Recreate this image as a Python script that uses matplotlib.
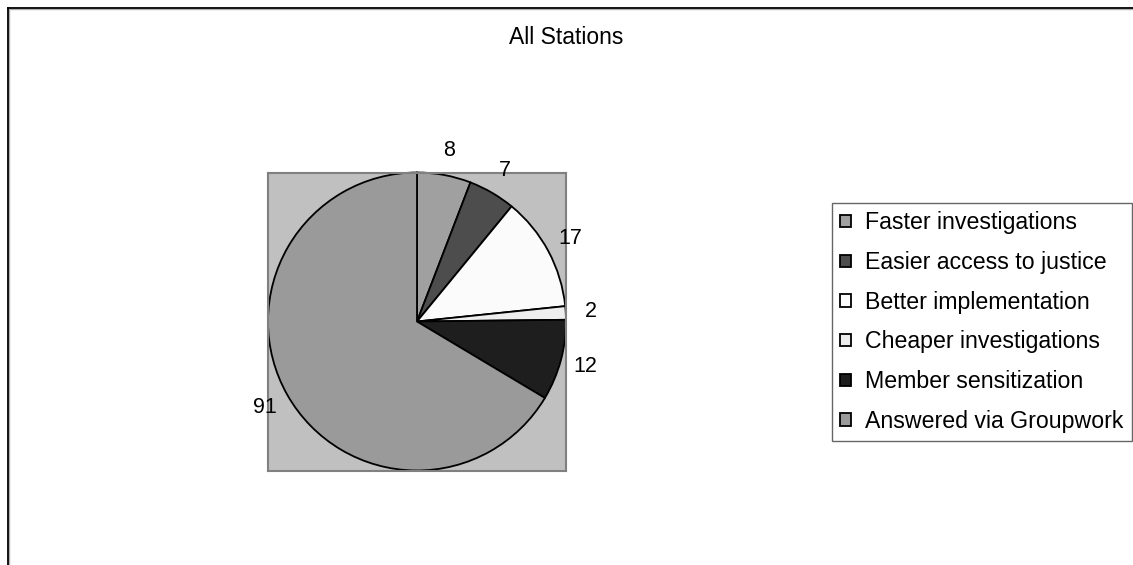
import matplotlib
matplotlib.use("Agg")
import matplotlib.pyplot as plt
from matplotlib.lines import Line2D

plt.rcParams['font.family'] = ['Liberation Sans', 'DejaVu Sans']

# responses for all stations
categories = ["Faster investigations", "Easier access to justice", "Better implementation",
              "Cheaper investigations", "Member sensitization", "Answered via Groupwork"]
counts = [8, 7, 17, 2, 12, 91]
colors = ["#a0a0a0", "#4d4d4d", "#fbfbfb", "#eeeeee", "#1e1e1e", "#9a9a9a"]

W, H = 1133, 565
fig = plt.figure(figsize=(W / 100, H / 100), dpi=100)

# chart area frame (top and left edges only, with a light shadow)
fig.add_artist(Line2D([8 / W, 1], [1 - 9 / H, 1 - 9 / H], color="#b0b0b0", lw=1.0))
fig.add_artist(Line2D([9 / W, 9 / W], [0, 1 - 9 / H], color="#b0b0b0", lw=1.0))
fig.add_artist(Line2D([7.5 / W, 1], [1 - 8 / H, 1 - 8 / H], color="black", lw=1.3))
fig.add_artist(Line2D([8 / W, 8 / W], [0, 1 - 7.5 / H], color="black", lw=1.3))

ax = fig.add_axes([268 / W, 1 - 471 / H, 298 / W, 299 / H])
wedges, texts = ax.pie(counts, colors=colors, startangle=90, counterclock=False,
                       radius=1.0, labels=[str(c) for c in counts], labeldistance=1.17,
                       wedgeprops=dict(edgecolor="black", linewidth=1.3, clip_on=False),
                       textprops=dict(fontsize=15.5, color="black"))
for t in texts:
    t.set_ha("center")
    t.set_va("center")

ax.set_frame_on(True)
ax.set_facecolor("#c0c0c0")
ax.set_xlim(-1, 1)
ax.set_ylim(-1, 1)
ax.set_xticks([])
ax.set_yticks([])
for s in ax.spines.values():
    s.set_color("#808080")
    s.set_linewidth(1.5)

fig.text(566 / W, 1 - 38 / H, "All Stations", ha="center", va="center", fontsize=16.5)

leg = fig.legend(wedges, categories, loc="upper left",
                 bbox_to_anchor=(832 / W, 1 - 203 / H), fontsize=16.7,
                 frameon=True, fancybox=False, borderpad=0.36, labelspacing=0.72,
                 handlelength=0.44, handleheight=0.44, handletextpad=0.62,
                 borderaxespad=0)
leg.get_frame().set_edgecolor("#404040")
leg.get_frame().set_linewidth(1.0)

fig.savefig("out.png", dpi=100)
